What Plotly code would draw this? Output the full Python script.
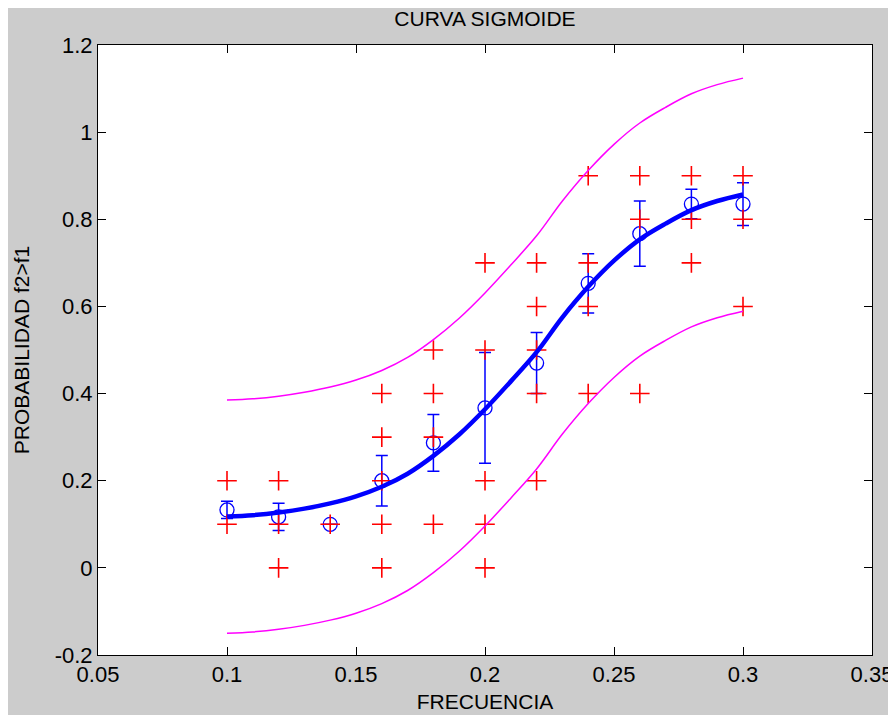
import plotly.graph_objects as go

# ---- data ----
freq = [0.10, 0.12, 0.14, 0.16, 0.18, 0.20, 0.22, 0.24, 0.26, 0.28, 0.30]
mean_prob = [0.133, 0.117, 0.100, 0.200, 0.287, 0.367, 0.470, 0.653, 0.767, 0.835, 0.835]
err_prob = [0.020, 0.031, 0.0, 0.058, 0.065, 0.127, 0.070, 0.068, 0.075, 0.034, 0.049]

resp_x = [0.10, 0.10,
          0.12, 0.12, 0.12,
          0.14,
          0.16, 0.16, 0.16, 0.16, 0.16,
          0.18, 0.18, 0.18, 0.18,
          0.20, 0.20, 0.20, 0.20, 0.20,
          0.22, 0.22, 0.22, 0.22, 0.22,
          0.24, 0.24, 0.24, 0.24,
          0.26, 0.26, 0.26,
          0.28, 0.28, 0.28,
          0.30, 0.30, 0.30]
resp_y = [0.2, 0.1,
          0.2, 0.1, 0.0,
          0.1,
          0.4, 0.3, 0.2, 0.1, 0.0,
          0.5, 0.4, 0.3, 0.1,
          0.7, 0.5, 0.2, 0.1, 0.0,
          0.7, 0.6, 0.5, 0.4, 0.2,
          0.9, 0.7, 0.6, 0.4,
          0.9, 0.8, 0.4,
          0.9, 0.8, 0.7,
          0.9, 0.8, 0.6]

fit_x = [0.10, 0.11, 0.12, 0.13, 0.14, 0.15, 0.16, 0.17, 0.18, 0.19, 0.20,
         0.21, 0.22, 0.23, 0.24, 0.25, 0.26, 0.27, 0.28, 0.29, 0.30]
fit_y = [0.118, 0.121, 0.127, 0.136, 0.148, 0.164, 0.186, 0.216, 0.257, 0.306, 0.364,
         0.428, 0.495, 0.575, 0.645, 0.705, 0.754, 0.790, 0.821, 0.842, 0.857]
upper_y = [0.385, 0.388, 0.394, 0.403, 0.415, 0.431, 0.453, 0.483, 0.524, 0.573, 0.631,
           0.695, 0.762, 0.842, 0.912, 0.972, 1.021, 1.057, 1.088, 1.109, 1.124]
lower_y = [-0.150, -0.147, -0.141, -0.132, -0.120, -0.104, -0.082, -0.052, -0.011, 0.038, 0.096,
           0.160, 0.227, 0.307, 0.377, 0.437, 0.486, 0.522, 0.553, 0.574, 0.589]

x_ticks = [0.05, 0.10, 0.15, 0.20, 0.25, 0.30, 0.35]
x_tick_labels = ["0.05", "0.1", "0.15", "0.2", "0.25", "0.3", "0.35"]
y_ticks = [-0.2, 0.0, 0.2, 0.4, 0.6, 0.8, 1.0, 1.2]
y_tick_labels = ["-0.2", "0", "0.2", "0.4", "0.6", "0.8", "1", "1.2"]

BLUE = "#0000ff"
RED = "#ff0000"
MAG = "#ff00ff"
GRAY = "#cccccc"
FONT = "Liberation Sans, Arial, sans-serif"
TXT = "#000000"

fig = go.Figure()

fig.add_trace(go.Scatter(
    x=freq, y=mean_prob, mode="markers",
    marker=dict(symbol="circle-open", size=14, color=BLUE, line=dict(width=1.3, color=BLUE)),
    error_y=dict(type="data", array=err_prob, visible=True, color=BLUE, thickness=1.5, width=6),
    showlegend=False, hoverinfo="skip"))

fig.add_trace(go.Scatter(
    x=resp_x, y=resp_y, mode="markers",
    marker=dict(symbol="cross-thin-open", size=14, color=RED, line=dict(width=1.6, color=RED)),
    showlegend=False, hoverinfo="skip"))

fig.add_trace(go.Scatter(x=fit_x, y=upper_y, mode="lines", line=dict(color=MAG, width=1.5, shape="spline"),
                         showlegend=False, hoverinfo="skip"))
fig.add_trace(go.Scatter(x=fit_x, y=lower_y, mode="lines", line=dict(color=MAG, width=1.5, shape="spline"),
                         showlegend=False, hoverinfo="skip"))
fig.add_trace(go.Scatter(x=fit_x, y=fit_y, mode="lines", line=dict(color=BLUE, width=4.5, shape="spline"),
                         showlegend=False, hoverinfo="skip"))

# page has an 8px body margin; figure occupies the rest of the 896x715 window
W, H = 888, 707
L, T = 90, 37
PW, PH = 774, 610

axis_common = dict(showgrid=False, zeroline=False, showline=True, linecolor="black", linewidth=1,
                   mirror="ticks", ticks="inside", ticklen=8, tickcolor="black", tickwidth=1,
                   automargin=False,
                   tickfont=dict(family=FONT, size=22, color=TXT))

fig.update_layout(
    width=W, height=H,
    margin=dict(l=L, r=W - L - PW, t=T, b=H - T - PH),
    paper_bgcolor=GRAY, plot_bgcolor="white",
    title=dict(text="CURVA SIGMOIDE", x=(L + PW / 2) / W, xanchor="center",
               y=1 - 11 / H, yanchor="middle", font=dict(family=FONT, size=21, color=TXT)),
    xaxis=dict(range=[0.05, 0.35], tickvals=x_ticks, ticktext=x_tick_labels,
               title=dict(text="FRECUENCIA", font=dict(family=FONT, size=21, color=TXT), standoff=7),
               **axis_common),
    yaxis=dict(range=[-0.2, 1.2], tickvals=y_ticks, ticktext=y_tick_labels,
               title=dict(text="PROBABILIDAD f2>f1", font=dict(family=FONT, size=21, color=TXT), standoff=19),
               **axis_common),
)

fig.write_html("out.html")
